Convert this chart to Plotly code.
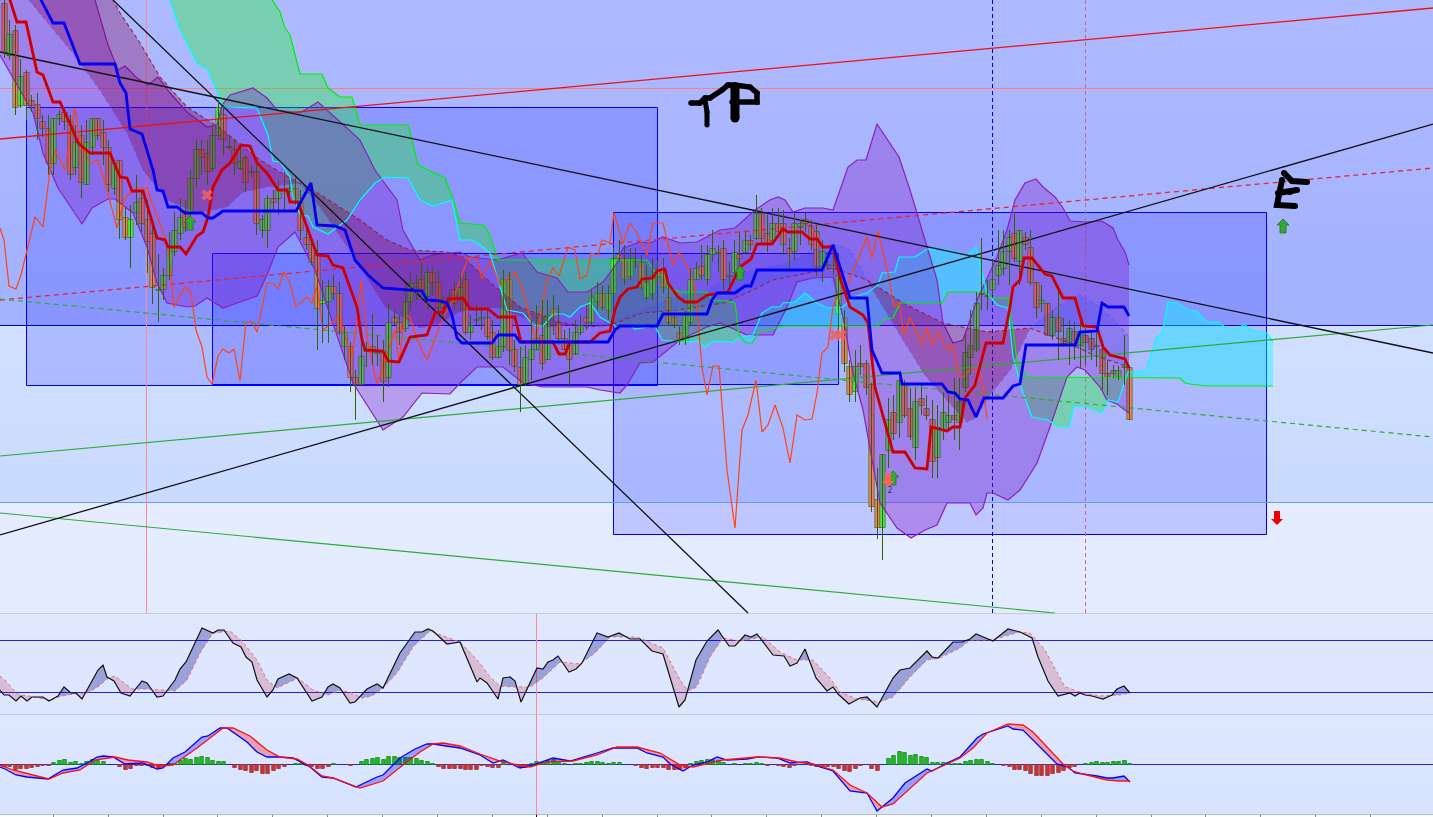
import plotly.graph_objects as go
import numpy as np

# x axis: time units, one bar every 5.49 units. y axes: chart units (down is larger).
BAR0, BAR_STEP = 4.33, 5.49

# colour, high, body top, body bottom, low
candles = [
("r",-8,3,52,58),("g",20,34,55,60),("r",25,30,107,115),("g",59,76,105,108),("r",70,72,105,120),("r",95,100,105,112),
("r",93,104,118,140),("r",115,121,128,137),("r",115,128,163,175),("g",118,118,163,175),("g",110,114,118,125),("r",108,112,121,130),
("r",115,121,174,180),("g",125,142,167,175),("r",125,135,182,198),("g",120,142,184,185),("g",118,118,147,155),("r",118,118,135,140),
("r",120,132,147,165),("r",140,147,184,192),("g",160,163,188,195),("r",160,160,219,239),("r",207,217,237,240),("g",205,219,237,268),
("g",175,202,212,225),("r",190,198,223,232),("r",200,219,241,273),("r",225,233,287,304),("g",254,289,289,322),("g",268,275,289,300),
("g",232,247,275,280),("g",212,230,251,256),("g",198,217,233,240),("r",200,210,227,232),("g",170,178,212,218),("g",140,149,178,188),
("r",140,149,157,175),("r",140,153,171,185),("g",125,135,168,172),("g",100,107,135,140),("r",105,114,139,155),("g",135,146,146,150),
("r",140,149,163,175),("g",145,161,168,170),("r",155,157,182,192),("g",165,171,171,178),("r",165,171,223,235),("g",215,219,230,238),
("g",195,198,230,248),("r",190,198,202,210),("g",180,190,198,215),("g",172,189,189,210),("g",180,188,191,195),("r",178,188,198,205),
("r",190,202,230,240),("r",228,237,244,250),("r",240,244,262,265),("r",240,255,308,350),("g",280,300,303,343),("g",280,286,301,343),
("r",275,286,293,300),("r",282,293,332,335),("g",325,332,346,360),("r",342,346,377,392),("r",370,377,384,420),("g",342,356,384,385),
("g",342,350,350,367),("r",314,346,352,365),("g",335,352,352,366),("r",340,352,381,402),("g",303,322,377,387),("r",310,317,322,325),
("r",315,322,332,345),("g",285,301,328,332),("g",272,283,301,310),("g",275,283,286,300),("r",262,279,289,300),("g",268,272,296,310),
("r",268,272,282,295),("r",270,282,307,315),("g",295,303,307,318),("r",290,297,300,305),("r",282,289,303,310),("g",275,287,297,310),
("r",272,279,332,335),("g",315,325,332,340),("g",305,319,319,325),("g",310,317,317,330),("r",310,317,336,340),("r",320,332,357,360),
("g",330,346,357,358),("g",270,279,346,352),("r",272,279,350,365),("r",340,349,366,372),("r",347,367,384,412),("g",345,357,383,386),
("g",320,349,359,380),("g",305,338,349,350),("r",300,335,363,370),("g",300,315,359,360),("r",295,308,317,335),("r",305,322,338,345),
("r",330,338,349,350),("r",328,345,359,387),("g",320,332,353,355),("g",315,325,332,335),("r",305,317,322,330),("g",290,297,322,325),
("g",282,293,301,310),("r",285,293,307,310),("g",285,293,310,320),("g",248,258,293,295),("r",240,254,258,262),("r",245,258,279,285),
("g",248,258,276,280),("g",248,260,260,268),("r",255,262,287,290),("g",265,282,297,300),("g",258,276,293,300),("r",260,269,276,285),
("r",258,269,287,293),("r",285,297,322,325),("r",312,317,324,328),("r",325,332,341,345),("g",310,315,341,345),("g",268,279,322,325),
("g",262,268,279,280),("r",245,266,275,280),("g",245,254,279,285),("g",230,248,254,262),("g",245,252,252,272),("r",240,248,279,290),
("g",262,275,275,295),("g",240,252,272,278),("r",232,254,258,265),("g",232,240,252,252),("r",235,240,244,250),("g",195,213,238,240),
("r",208,213,238,245),("r",215,233,244,252),("g",208,223,240,245),("r",208,223,231,238),("r",210,223,244,255),("r",238,248,253,268),
("g",213,223,251,260),("g",220,223,227,245),("r",213,219,223,232),("r",220,226,244,250),("r",225,231,266,276),("g",240,251,266,282),
("g",252,264,264,270),("r",245,265,268,275),("g",255,275,314,340),("r",310,317,363,372),("r",360,366,394,402),("g",350,366,391,402),
("r",345,363,366,375),("r",360,363,387,395),("r",383,384,506,512),("r",468,499,527,539),("g",454,454,527,560),("g",398,419,450,468),
("r",395,412,433,440),("g",378,380,422,438),("r",380,384,415,418),("r",388,408,436,440),("g",388,401,447,460),("r",385,398,405,415),
("r",395,408,415,420),("r",400,419,461,478),("g",405,427,457,478),("g",392,412,429,440),("g",395,415,422,430),("r",378,415,419,440),
("g",378,401,422,450),("g",335,352,387,392),("g",310,345,357,375),("g",292,303,349,352),("g",238,293,293,310),("g",280,295,295,310),
("g",260,279,289,295),("g",230,265,275,285),("g",230,251,268,275),("g",230,237,251,285),("r",212,233,258,262),("g",230,230,261,285),
("r",232,237,244,250),("r",230,247,282,285),("r",282,282,307,318),("g",285,300,303,312),("r",303,303,335,335),("g",310,317,335,340),
("r",285,317,331,360),("r",318,338,343,347),("g",320,328,342,365),("r",322,331,345,360),("g",320,331,345,368),("r",328,335,342,365),
("r",332,338,349,360),("g",333,345,345,367),("r",340,349,373,390),("r",360,373,377,395),("g",365,370,373,378),("g",366,370,377,380),
("g",335,366,366,385),("r",365,367,419,420),
]
candle_time = [int(BAR0 + BAR_STEP * i) + 0.5 for i in range(len(candles))]
candle_colour = ["#4FE84F" if c[0] == "g" else "#FA7868" for c in candles]
body_top = [c[2] + 0.5 for c in candles]
body_size = [max(c[3] - c[2], 1) for c in candles]
wick_x, wick_y = [], []
for t, c in zip(candle_time, candles):
    wick_x += [t, t, None]
    wick_y += [min(c[1], c[2]), max(c[4], c[3]), None]

tenkan = [(0,-20),(10,0),(17,22),(26,22),(37,72),(43,75),(53,102),(60,102),(72,128),(78,143),(90,153),(110,153),(120,177),(127,178),(132,191),(143,191),(157,238),(165,240),(168,247),(180,247),(186,254),(197,236),(203,232),(208,217),(213,187),(222,170),(230,163),(241,145),(250,146),(257,163),(267,173),(278,190),(287,190),(290,202),(298,202),(317,255),(328,256),(333,265),(343,268),(357,307),(362,340),(365,350),(383,351),(388,361),(399,362),(410,337),(427,335),(435,313),(443,312),(448,299),(463,298),(470,309),(488,309),(498,317),(515,317),(521,342),(553,342),(559,354),(565,354),(570,342),(590,342),(600,333),(610,331),(615,310),(620,297),(628,289),(637,287),(642,279),(653,278),(657,271),(665,269),(668,283),(678,297),(685,302),(697,302),(707,295),(728,292),(740,267),(751,259),(757,244),(772,244),(783,229),(788,232),(802,232),(810,239),(817,239),(823,247),(833,247),(840,278),(850,307),(863,315),(868,323),(875,387),(893,452),(905,452),(915,468),(927,469),(931,427),(947,431),(953,427),(960,427),(965,398),(975,385),(982,357),(986,343),(1003,343),(1010,307),(1013,287),(1020,280),(1024,258),(1032,258),(1045,274),(1052,276),(1063,298),(1075,298),(1083,326),(1097,327),(1103,347),(1110,355),(1125,359),(1129,368)]
kijun = [(30,-30),(41,0),(53,23),(64,23),(80,64),(115,64),(120,83),(126,93),(130,129),(142,134),(153,170),(157,190),(163,191),(168,207),(177,207),(185,213),(202,213),(208,218),(213,218),(223,211),(296,211),(311,183),(317,225),(335,226),(345,230),(355,260),(368,275),(383,288),(422,291),(427,300),(440,301),(447,303),(452,315),(457,338),(462,343),(492,343),(498,335),(515,335),(520,342),(608,342),(615,330),(620,326),(657,326),(663,314),(707,314),(712,300),(717,293),(735,293),(745,286),(751,286),(757,270),(822,270),(833,245),(850,298),(867,298),(872,350),(882,373),(900,373),(902,384),(942,384),(948,392),(955,393),(960,399),(968,400),(976,417),(984,398),(1003,398),(1013,386),(1020,384),(1026,345),(1075,345),(1080,332),(1097,331),(1102,303),(1108,307),(1124,307),(1129,316)]
boll_upper = [(0,-200),(95,0),(108,45),(118,70),(125,66),(137,78),(148,85),(158,77),(170,93),(187,112),(207,127),(217,125),(222,105),(230,95),(253,88),(267,98),(277,110),(300,113),(318,102),(333,115),(347,128),(360,140),(375,170),(397,200),(403,230),(420,260),(432,255),(460,252),(470,257),(497,260),(522,253),(537,272),(557,278),(568,292),(587,292),(603,282),(617,263),(623,248),(640,242),(650,243),(663,237),(680,243),(697,242),(720,230),(735,228),(755,210),(770,200),(778,197),(785,200),(793,212),(805,208),(823,208),(833,210),(848,167),(857,160),(866,160),(877,124),(899,157),(910,190),(922,230),(937,280),(943,323),(953,343),(963,340),(977,300),(997,257),(1007,230),(1015,200),(1025,183),(1036,179),(1043,187),(1055,197),(1063,208),(1070,221),(1087,222),(1102,221),(1113,228),(1118,240),(1125,252),(1129,265)]
boll_lower = [(0,55),(20,90),(33,113),(43,153),(58,188),(82,224),(92,208),(108,199),(115,199),(133,213),(147,247),(157,283),(167,303),(187,307),(195,306),(207,298),(223,308),(237,303),(257,296),(267,275),(278,247),(295,232),(315,270),(353,383),(383,430),(403,417),(422,393),(450,394),(460,383),(477,367),(503,367),(523,383),(543,387),(587,387),(600,390),(620,393),(627,385),(640,363),(653,362),(680,340),(707,327),(720,323),(747,335),(773,335),(787,307),(797,282),(813,278),(833,277),(843,317),(853,373),(863,410),(880,503),(897,528),(911,538),(925,530),(937,525),(947,503),(970,503),(976,515),(983,508),(987,493),(993,493),(1008,500),(1020,490),(1037,463),(1050,427),(1067,377),(1077,367),(1085,370),(1100,387),(1107,400),(1117,404),(1129,413)]
ma_slow = [(0,-170),(113,0),(120,13),(140,43),(160,77),(187,107),(220,128),(260,160),(293,180),(313,190),(360,220),(387,240),(410,250),(447,252),(463,257),(493,285),(520,307),(560,322),(587,327),(610,325),(643,313),(677,310),(723,303),(747,293),(773,280),(833,268),(867,280),(903,303),(943,323),(987,332),(1030,328),(1067,342),(1093,355),(1129,367)]
ma_fast = [(0,-40),(29,0),(43,17),(73,53),(100,90),(127,133),(143,170),(167,200),(197,213),(227,207),(243,192),(267,187),(300,183),(320,207),(355,258),(385,307),(403,317),(420,328),(440,323),(457,313),(473,308),(500,308),(517,315),(547,327),(570,325),(610,322),(630,315),(667,300),(707,290),(735,275),(757,270),(790,262),(813,250),(833,244),(850,250),(867,280),(903,340),(925,375),(945,398),(967,422),(975,418),(990,395),(1010,370),(1030,328),(1060,305),(1080,295),(1100,307),(1117,323),(1129,337)]
span_lime = [(150,-260),(272,0),(280,12),(285,28),(290,35),(300,74),(322,74),(328,88),(340,97),(352,97),(360,125),(408,125),(418,165),(445,178),(455,205),(460,223),(483,225),(488,231),(498,260),(647,260),(657,275),(665,275),(668,287),(680,292),(707,292),(712,300),(727,301),(735,303),(739,335),(746,343),(752,343),(760,331),(770,330),(783,326),(878,326),(885,319),(893,318),(900,303),(942,303),(948,292),(985,292),(992,298),(1008,298),(1012,323),(1017,360),(1027,377),(1180,378),(1185,383),(1190,384),(1207,386),(1273,386)]
span_cyan = [(150,-40),(170,0),(180,30),(197,63),(208,70),(217,93),(223,107),(257,108),(268,135),(273,161),(280,162),(290,177),(293,197),(300,215),(308,216),(313,227),(328,234),(347,220),(360,200),(375,183),(385,177),(408,178),(420,200),(433,206),(452,200),(460,240),(472,240),(480,245),(490,253),(498,280),(507,310),(523,313),(533,325),(543,326),(553,314),(563,314),(570,317),(580,307),(590,303),(600,317),(610,323),(617,327),(630,326),(635,329),(655,326),(662,340),(680,342),(698,341),(705,347),(713,341),(733,342),(740,337),(753,335),(762,313),(772,307),(780,307),(783,303),(795,302),(805,293),(817,303),(827,308),(843,307),(853,297),(867,293),(878,285),(882,273),(895,272),(899,257),(915,257),(927,249),(948,250),(967,255),(976,247),(982,272),(987,293),(997,305),(1008,308),(1013,357),(1022,390),(1032,417),(1048,420),(1058,427),(1069,427),(1074,406),(1087,407),(1102,413),(1108,400),(1118,402),(1128,372),(1146,371),(1157,337),(1162,334),(1168,302),(1177,303),(1188,310),(1196,311),(1207,322),(1218,322),(1228,329),(1238,329),(1244,324),(1250,330),(1260,332),(1267,333),(1273,342)]
chikou = [(0,228),(4,240),(9,286),(16,289),(21,275),(32,230),(35,217),(43,227),(50,170),(55,150),(65,170),(75,108),(80,142),(90,163),(98,160),(107,190),(117,228),(125,198),(137,188),(147,188),(157,217),(168,247),(174,307),(185,287),(191,293),(196,330),(202,347),(207,377),(212,384),(218,356),(223,349),(229,353),(234,349),(240,381),(246,322),(252,322),(257,332),(267,283),(273,283),(278,289),(284,272),(290,283),(296,307),(307,297),(312,303),(317,287),(323,330),(339,317),(345,337),(352,357),(355,337),(361,280),(368,343),(377,384),(395,330),(399,363),(405,315),(410,317),(417,340),(427,360),(442,320),(453,300),(468,258),(477,259),(482,279),(490,260),(500,285),(515,272),(522,288),(536,340),(547,280),(553,268),(559,276),(568,247),(575,250),(580,279),(587,275),(591,253),(598,255),(602,240),(610,243),(614,213),(623,243),(630,223),(637,233),(647,255),(653,223),(663,223),(673,265),(679,252),(688,268),(695,287),(702,367),(707,395),(713,366),(719,366),(727,470),(735,528),(742,430),(748,415),(756,380),(762,432),(768,425),(775,405),(783,428),(790,463),(797,415),(805,420),(812,419),(817,393),(822,353),(828,347),(833,307),(838,295),(844,293),(867,237),(872,258),(878,231),(888,273),(894,307),(899,302),(904,335),(910,317),(922,345),(927,328),(932,345),(938,332),(943,343),(948,350),(953,345),(958,373),(963,377),(970,370),(978,368),(983,387),(987,419)]

stoch_main = [(0,690),(4,695),(9,695),(16,701),(21,696),(27,701),(32,697),(43,697),(49,701),(58,696),(64,687),(71,693),(76,693),(82,699),(98,670),(103,665),(107,677),(114,681),(121,693),(130,696),(142,681),(147,683),(157,697),(163,696),(175,680),(180,669),(186,662),(202,628),(213,633),(218,630),(224,630),(233,643),(241,647),(246,657),(252,662),(257,680),(267,697),(273,690),(278,679),(289,674),(297,678),(312,701),(322,697),(328,687),(333,684),(340,688),(350,703),(355,702),(367,689),(377,684),(383,688),(400,653),(415,632),(422,632),(428,629),(433,631),(447,644),(460,642),(477,682),(480,678),(487,683),(498,699),(503,678),(510,677),(515,681),(521,702),(537,668),(543,669),(548,662),(553,660),(558,656),(569,672),(576,669),(582,663),(597,633),(608,637),(619,633),(630,639),(640,639),(652,651),(663,654),(673,687),(679,707),(685,700),(696,660),(707,641),(718,630),(729,646),(735,646),(745,635),(751,637),(757,634),(773,655),(784,656),(790,666),(797,663),(805,649),(816,678),(827,691),(833,687),(838,694),(849,704),(860,698),(867,697),(877,707),(893,678),(900,670),(910,668),(927,651),(932,657),(938,658),(953,642),(962,642),(970,639),(976,634),(993,641),(1008,629),(1020,632),(1032,638),(1038,657),(1048,681),(1058,696),(1070,693),(1075,696),(1080,693),(1085,695),(1092,696),(1103,699),(1112,695),(1117,689),(1124,686),(1130,693)]
stoch_signal = [(0,676),(7,682),(17,694),(33,697),(50,700),(58,697),(73,694),(87,693),(98,687),(108,678),(115,676),(123,682),(132,689),(147,689),(163,690),(175,691),(187,680),(200,653),(213,633),(230,631),(243,642),(257,660),(267,680),(277,688),(298,678),(313,690),(328,695),(340,690),(352,693),(362,698),(372,696),(383,688),(397,673),(413,647),(430,631),(447,637),(460,642),(480,663),(490,677),(500,686),(513,687),(530,687),(543,678),(560,662),(580,664),(595,653),(610,637),(637,637),(663,648),(680,680),(688,691),(697,687),(710,657),(723,638),(740,641),(763,637),(780,652),(797,660),(813,660),(830,678),(840,692),(857,699),(880,702),(893,697),(910,677),(927,660),(940,658),(960,648),(970,640),(990,640),(1003,637),(1020,632),(1030,633),(1045,650),(1057,673),(1065,687),(1083,693),(1100,696),(1120,695),(1130,693)]
macd_main = [(0,767),(5,769),(16,775),(27,777),(48,779),(63,770),(77,768),(87,763),(97,757),(103,756),(113,757),(125,764),(143,763),(157,769),(163,768),(173,758),(185,752),(202,737),(208,736),(220,728),(227,728),(237,735),(247,742),(257,752),(267,757),(280,757),(293,758),(310,767),(322,777),(333,778),(356,787),(377,777),(383,775),(400,758),(415,749),(427,744),(433,744),(460,748),(480,755),(493,763),(503,760),(520,768),(533,765),(553,758),(570,761),(597,753),(613,748),(637,748),(647,753),(663,757),(670,764),(683,771),(693,765),(707,762),(717,757),(727,760),(747,759),(758,757),(777,758),(790,763),(807,762),(820,767),(833,771),(850,791),(867,793),(877,811),(893,798),(905,783),(913,778),(927,769),(932,771),(947,763),(960,757),(967,749),(977,738),(983,734),(1008,726),(1013,729),(1023,730),(1043,750),(1057,764),(1068,767),(1075,773),(1097,776),(1107,778),(1113,778),(1124,776),(1130,782)]
macd_signal = [(0,765),(13,770),(33,775),(49,779),(63,773),(80,770),(95,760),(115,757),(128,760),(147,762),(160,766),(173,765),(197,748),(223,728),(233,728),(250,736),(267,750),(280,757),(297,759),(308,765),(322,776),(333,778),(360,788),(383,781),(403,765),(420,752),(433,744),(443,743),(460,746),(480,754),(500,761),(513,764),(530,767),(547,762),(573,761),(597,755),(617,747),(637,747),(660,753),(680,765),(693,767),(713,762),(723,760),(757,757),(780,758),(797,762),(813,764),(833,770),(850,785),(867,793),(882,807),(893,804),(910,788),(927,773),(947,764),(960,758),(973,748),(987,733),(1008,724),(1023,725),(1033,732),(1047,747),(1063,764),(1073,771),(1083,774),(1107,780),(1120,781),(1130,781)]
macd_hist = [-2,-2,-5,-4,-4,-3,-2,-1,-1,2,4,5,2,3,1,3,5,4,3,0,0,-2,-5,-4,-1,-1,-1,-3,-3,-2,1,1,4,6,5,7,8,7,4,3,3,0,-3,-5,-6,-8,-6,-9,-9,-6,-4,-2,0,1,1,-1,-2,-4,-4,-2,1,0,0,-1,0,3,5,6,7,5,8,8,7,7,7,6,4,3,1,-2,-4,-4,-4,-4,-5,-5,-5,
-1,-2,-3,-3,2,0,0,-2,-3,1,3,2,4,5,3,1,0,1,1,2,3,3,2,1,2,2,0,0,-1,-3,-4,-3,-3,-3,-5,-5,-5,-3,1,3,4,5,5,4,2,0,1,0,1,1,2,1,-1,0,-1,-2,-3,-1,0,0,-1,-2,-3,-2,-2,-4,-6,-7,-4,-1,0,-4,-6,0,6,9,13,12,9,10,8,7,2,2,2,2,1,
1,3,4,5,5,3,1,0,-1,-2,-5,-5,-6,-9,-11,-11,-11,-9,-8,-6,-3,-2,0,1,2,3,2,2,3,3,4,1]

red_solid = [(0,139),(1433,8)]
red_dash = [(0,300),(1433,168)]
black_fall = [(0,52),(1433,353)]
black_steep = [(113,0),(748,613)]
black_rise = [(0,535),(1433,124)]
green_rise = [(0,456),(1433,325)]
green_dash = [(0,299),(1433,437)]
green_fall = [(0,513),(1055,613)]

boxes = [(26.5,107.5,657.5,385.5),(212.5,253.5,838.5,384.5),(613.5,212.5,1266.5,534.5)]
buy_arrows = [(190,223),(740,273),(893,478),(1283,226)]
sell_arrows = [(888,480),(1277,518)]
cross_marks = [(207,195),(835,335),(841,335)]

scribble_a = [(691,103),(700,103),(705,98),(710,98),(722,90),(728,85),(735,85),(750,87),(757,93),(757,102),(732,102)]
scribble_b = [(705,100),(707,112),(707,125)]
scribble_c = [(735,87),(735,118)]
scribble_d = [(1284,173),(1292,181),(1307,182)]
scribble_e = [(1282,180),(1280,192),(1277,205),(1295,206)]
scribble_f = [(1278,193),(1290,192),(1297,190)]

PANES = {"y": (0, 613.5), "y2": (613.5, 714.5), "y3": (714.5, 814.5)}
H, W = 817, 1433

fig = go.Figure()


def xs(p):
    return [a for a, _ in p]


def ys(p):
    return [b for _, b in p]


def line(p, color, width=1, dash="solid", yaxis="y", opacity=1):
    fig.add_trace(go.Scatter(x=xs(p), y=ys(p), mode="lines", yaxis=yaxis, opacity=opacity,
                             line=dict(color=color, width=width, dash=dash), hoverinfo="skip"))


def pen(p, width):
    fig.add_trace(go.Scatter(x=xs(p), y=ys(p), mode="lines+markers", hoverinfo="skip",
                             line=dict(color="#000000", width=width),
                             marker=dict(color="#000000", size=width, line=dict(width=0))))


def poly(x, y, color, yaxis="y"):
    fig.add_trace(go.Scatter(x=x, y=y, mode="lines", yaxis=yaxis, fill="toself", fillcolor=color,
                             line=dict(width=0), hoverinfo="skip"))


def band(a, b, col_a_higher, col_b_higher, yaxis="y"):
    """Fill between two series; a smaller reading is higher on the chart."""
    lo = max(a[0][0], b[0][0])
    hi = min(a[-1][0], b[-1][0])
    t = sorted({v for v in xs(a) + xs(b) if lo <= v <= hi})
    A = np.interp(t, xs(a), ys(a))
    B = np.interp(t, xs(b), ys(b))
    runs, cur = [], [(t[0], A[0], B[0])]
    for i in range(1, len(t)):
        d0, d1 = A[i - 1] - B[i - 1], A[i] - B[i]
        if d0 != 0 and d0 * d1 <= 0:
            f = d0 / (d0 - d1)
            tc = t[i - 1] + f * (t[i] - t[i - 1])
            yc = A[i - 1] + f * (A[i] - A[i - 1])
            cur.append((tc, yc, yc))
            runs.append(cur)
            cur = [(tc, yc, yc)]
        cur.append((t[i], A[i], B[i]))
    runs.append(cur)
    for r in runs:
        s = sum(q[1] - q[2] for q in r)
        poly([q[0] for q in r] + [q[0] for q in r[::-1]],
             [q[1] for q in r] + [q[2] for q in r[::-1]],
             col_a_higher if s < 0 else col_b_higher, yaxis)


def hexrgb(h):
    return tuple(int(h[i:i + 2], 16) for i in (1, 3, 5))


shapes = []


def gradient(y0, y1, c0, c1, yref):
    n = 12
    a, b = np.array(hexrgb(c0)), np.array(hexrgb(c1))
    for k in range(n):
        c = a + (b - a) * k / (n - 1)
        shapes.append(dict(type="rect", xref="x", yref=yref, x0=0, x1=W, layer="below", line_width=0,
                           y0=y0 + (y1 - y0) * k / n, y1=y1 if k == n - 1 else y0 + (y1 - y0) * (k + 1.25) / n,
                           fillcolor="rgb(%d,%d,%d)" % tuple(c)))


def hline(y, color, yref="y", width=1):
    shapes.append(dict(type="line", xref="x", yref=yref, x0=0, x1=W, y0=y, y1=y, layer="below",
                       line=dict(color=color, width=width)))


def vline(x, y0, y1, color, yref="y", dash="solid"):
    shapes.append(dict(type="line", xref="x", yref=yref, x0=x, x1=x, y0=y0, y1=y1, layer="below",
                       line=dict(color=color, width=1, dash=dash)))


gradient(0, 325.5, "#AEBAFF", "#A4B3FF", "y")
gradient(325.5, 502.5, "#D1E0FF", "#C9DBFF", "y")
gradient(502.5, 613.5, "#E6EDFF", "#E3EBFF", "y")
gradient(613.5, 714.5, "#E1E9FF", "#DDE6FF", "y2")
gradient(714.5, 814.5, "#DFE8FF", "#D7E3FF", "y3")
shapes.append(dict(type="rect", xref="x", yref="paper", x0=0, x1=W, y0=0, y1=2.5 / H, layer="below",
                   line_width=0, fillcolor="#FFFFFF"))

for x0, y0, x1, y1 in boxes:
    shapes.append(dict(type="rect", xref="x", yref="y", x0=x0, x1=x1, y0=y0, y1=y1, layer="below",
                       line=dict(color="#0000FF", width=1), fillcolor="rgba(0,0,255,0.16)"))

hline(88.5, "#FF8080")
hline(325.5, "#0000CC")
hline(502.5, "#6699FF")
hline(640.5, "#2222DD", "y2")
hline(692.5, "#2222DD", "y2")
hline(764.5, "#2222DD", "y3")
vline(146.5, 0, 613, "#FF8888")
vline(992.5, 0, 613, "#0000DD", dash="4px,3px")
vline(1085.5, 0, 613, "#CC6688", dash="4px,3px")
vline(536.5, 613.5, 714.5, "#FF8888", "y2")
vline(536.5, 714.5, 814.5, "#FF8888", "y3")
hline(613.5, "#778899")
hline(714.5, "#778899", "y2")
hline(814.5, "#778899", "y3")
for k in range(25):
    t = int(53.3 + 54.89 * k) + 0.5
    shapes.append(dict(type="line", xref="x", yref="paper", x0=t, x1=t, y0=0, y1=2.5 / H, layer="below",
                       line=dict(color="#778899", width=1)))
shapes.append(dict(type="line", xref="x", yref="paper", x0=536.5, x1=536.5, y0=0, y1=2.5 / H, layer="below",
                   line=dict(color="#000000", width=1)))

# Ichimoku cloud
band(span_cyan, span_lime, "rgba(0,255,255,0.38)", "rgba(0,255,0,0.30)")

# Bollinger envelope
t_up, t_lo = xs(boll_upper), xs(boll_lower)
poly(t_up + t_lo[::-1], ys(boll_upper) + ys(boll_lower)[::-1], "rgba(128,0,192,0.29)")
line(boll_upper, "#8822BB", 1.2)
line(boll_lower, "#8822BB", 1.2)

# Moving average ribbon
band(ma_fast, ma_slow, "rgba(0,64,255,0.14)", "rgba(128,0,80,0.33)")
line(ma_slow, "#A02040", 1.1, "4px,3px")
line(ma_fast, "rgba(110,70,230,0.55)", 1.1, "4px,3px")
line(span_cyan, "#00FFFF", 1.2)
line(span_lime, "#00F000", 1.2)

# Trend lines
line(red_solid, "#EE1111", 1.3)
line(red_dash, "#EE2233", 1.3, "5px,4px")
line(green_rise, "#33AA33", 1.2)
line(green_dash, "#33AA33", 1.2, "5px,4px")
line(green_fall, "#33AA33", 1.2)
line(chikou, "#FF4411", 1.2)
line(black_fall, "#111111", 1.3)
line(black_steep, "#111111", 1.3)
line(black_rise, "#111111", 1.3)

# Candles: wicks, then bodies
fig.add_trace(go.Scatter(x=wick_x, y=wick_y, mode="lines", hoverinfo="skip",
                         line=dict(color="#2F6400", width=1)))
fig.add_trace(go.Bar(x=candle_time, y=body_size, base=body_top, width=5.4, hoverinfo="skip", opacity=1,
                     marker=dict(color=candle_colour, opacity=1, line=dict(color="#3A7010", width=0.7))))

line(tenkan, "#CC0000", 2.8)
line(kijun, "#0000EE", 2.8)

# Signal arrows and marks
for x, y in buy_arrows:
    ax = [x, x + 6, x + 3, x + 3, x - 3, x - 3, x - 6, x]
    ay = [y - 7, y - 1, y - 1, y + 7, y + 7, y - 1, y - 1, y - 7]
    poly(ax, ay, "#33AA33")
    line(list(zip(ax, ay)), "#227722", 0.8)
for x, y in sell_arrows:
    colour = "#FF6060" if y < 500 else "#EE0000"
    poly([x, x + 6, x + 3, x + 3, x - 3, x - 3, x - 6, x], [y + 7, y + 1, y + 1, y - 7, y - 7, y + 1, y + 1, y + 7],
         colour)
fig.add_trace(go.Scatter(x=xs(cross_marks), y=ys(cross_marks), mode="markers", hoverinfo="skip",
                         marker=dict(symbol="x", size=10, color="#F06060", opacity=0.85, line=dict(width=0))))
fig.add_trace(go.Scatter(x=[890], y=[491], mode="text", text=["2"], hoverinfo="skip",
                         textfont=dict(family="DejaVu Sans", size=8, color="#334")))

# Hand-drawn marks
pen(scribble_a, 5.5)
pen(scribble_b, 5)
pen(scribble_c, 9)
pen(scribble_d, 6)
pen(scribble_e, 6)
pen(scribble_f, 6)

# Stochastic
band(stoch_main, stoch_signal, "rgba(0,0,128,0.30)", "rgba(190,40,70,0.22)", "y2")
line(stoch_signal, "#E87070", 1, "3px,3px", "y2")
line(stoch_main, "#111111", 1.2, "solid", "y2")

# MACD
fig.add_trace(go.Bar(x=candle_time, y=[-v for v in macd_hist], base=764.5, yaxis="y3", width=3.6, hoverinfo="skip", opacity=1,
                     marker=dict(color=["#22BB22" if v > 0 else "#CC3333" for v in macd_hist], opacity=1,
                                 line=dict(color=["#118811" if v > 0 else "#993333" for v in macd_hist],
                                           width=[0.8 if v else 0 for v in macd_hist]))))
band(macd_main, macd_signal, "rgba(0,0,255,0.30)", "rgba(255,0,0,0.30)", "y3")
line(macd_main, "#0000FF", 1.3, "solid", "y3")
line(macd_signal, "#FF1111", 1.3, "solid", "y3")

axis = dict(visible=False, fixedrange=True)
layout_axes = {}
for name, (a, b) in PANES.items():
    key = "yaxis" if name == "y" else "yaxis" + name[1:]
    layout_axes[key] = dict(axis, domain=[(H - b) / H, (H - a) / H], range=[b, a], anchor="x")

fig.update_layout(
    width=W, height=H, margin=dict(l=0, r=0, t=0, b=0), paper_bgcolor="#FFFFFF", plot_bgcolor="rgba(0,0,0,0)",
    showlegend=False, shapes=shapes, barmode="overlay",
    xaxis=dict(axis, range=[0, W], domain=[0, 1]),
    **layout_axes,
)

fig.write_html("out.html", config=dict(displayModeBar=False),
               post_script="document.body.style.margin='0';document.body.style.overflow='hidden';")
